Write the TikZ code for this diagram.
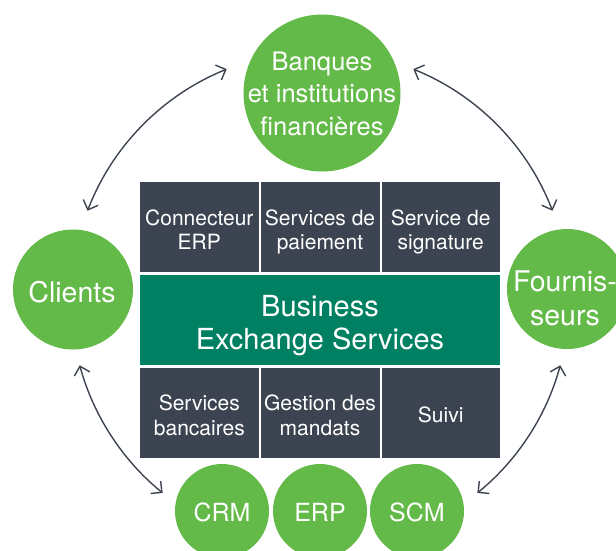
\documentclass[tikz,border=0pt]{standalone}
\usepackage{fontspec}
\setmainfont{TeX Gyre Heros}
\usetikzlibrary{arrows.meta,calc}
\definecolor{cgreen}{RGB}{99,186,72}
\definecolor{cteal}{RGB}{0,128,98}
\definecolor{cdark}{RGB}{61,68,81}
\begin{document}
\begin{tikzpicture}[x=1pt,y=-1pt,
  circ/.style={circle,fill=cgreen,inner sep=0pt},
  svc/.style={rectangle,fill=cdark,inner sep=0pt,minimum width=118.67pt,minimum height=90pt,anchor=north west},
  core/.style={rectangle,fill=cteal,inner sep=0pt,minimum width=360pt,minimum height=90pt,anchor=north west},
  lbl/.style={inner sep=0pt,anchor=north,text=white,align=center},
  big/.style={lbl,font=\fontsize{28.5}{34}\selectfont},
  mid/.style={lbl,font=\fontsize{25.5}{32.5}\selectfont},
  sml/.style={lbl,font=\fontsize{21}{24.5}\selectfont},
  arr/.style={draw=cdark,line width=1.4pt,{Straight Barb[length=8pt,width=16pt]}-{Straight Barb[length=8pt,width=16pt]}}]
\useasboundingbox (0,0) rectangle (616,550);
% circles
\node[circ,minimum size=157pt] (bank) at (322,93) {};
\node[circ,minimum size=120pt] (cli) at (73,289.5) {};
\node[circ,minimum size=120pt] (four) at (567,289) {};
\node[circ,minimum size=94pt] (crm) at (222,511) {};
\node[circ,minimum size=94pt] (erp) at (320,511) {};
\node[circ,minimum size=94pt] (scm) at (417,511) {};
\node[mid] (bank-t) at (322,47.25) {\strut Banques\\et institutions\\financières};
\node[big] (cli-t) at (72,278.9) {\strut Clients};
\node[big,font=\fontsize{28.5}{33.5}\selectfont] (four-t) at (565,268.25) {\strut Fournis-\\seurs};
\node[mid,font=\fontsize{25}{30}\selectfont] (crm-t) at (222,500.7) {\strut CRM};
\node[mid,font=\fontsize{25}{30}\selectfont] (erp-t) at (320,500.7) {\strut ERP};
\node[mid,font=\fontsize{25}{30}\selectfont] (scm-t) at (417,500.7) {\strut SCM};
% service boxes
\node[svc] (s1) at (140,182) {};
\node[svc] (s2) at (260.67,182) {};
\node[svc] (s3) at (381.33,182) {};
\node[core] (bes) at (140,275) {};
\node[svc] (s4) at (140,368) {};
\node[svc] (s5) at (260.67,368) {};
\node[svc] (s6) at (381.33,368) {};
\node[sml] (s1-t) at (199.33,207.85) {\strut Connecteur\\ERP};
\node[sml] (s2-t) at (320,207.85) {\strut Services de\\paiement};
\node[sml] (s3-t) at (440.67,207.85) {\strut Service de\\signature};
\node[lbl,font=\fontsize{29}{33}\selectfont] (bes-t) at (320,292.9) {\strut Business\\Exchange Services};
\node[sml,font=\fontsize{21}{25}\selectfont] (s4-t) at (199.33,392.5) {\strut Services\\bancaires};
\node[sml,font=\fontsize{21}{25}\selectfont] (s5-t) at (320,392.5) {\strut Gestion des\\mandats};
\node[sml,font=\fontsize{21}{25}\selectfont] (s6-t) at (440.67,405.2) {\strut Suivi};
% arrows (arcs of a circle around the centre)
\coordinate (ctr) at (320,300);
\coordinate (a1) at ($(ctr)+(112:249pt)$);
\coordinate (a2) at ($(ctr)+(68:249pt)$);
\coordinate (a3) at ($(ctr)+(195.2:249pt)$);
\coordinate (a4) at ($(ctr)+(-15.2:249pt)$);
\draw[arr] (a1) arc[start angle=112,end angle=159,radius=249pt];
\draw[arr] (a2) arc[start angle=68,end angle=21,radius=249pt];
\draw[arr] (a3) arc[start angle=195.2,end angle=230.8,radius=249pt];
\draw[arr] (a4) arc[start angle=-15.2,end angle=-50.8,radius=249pt];
\end{tikzpicture}
\end{document}
